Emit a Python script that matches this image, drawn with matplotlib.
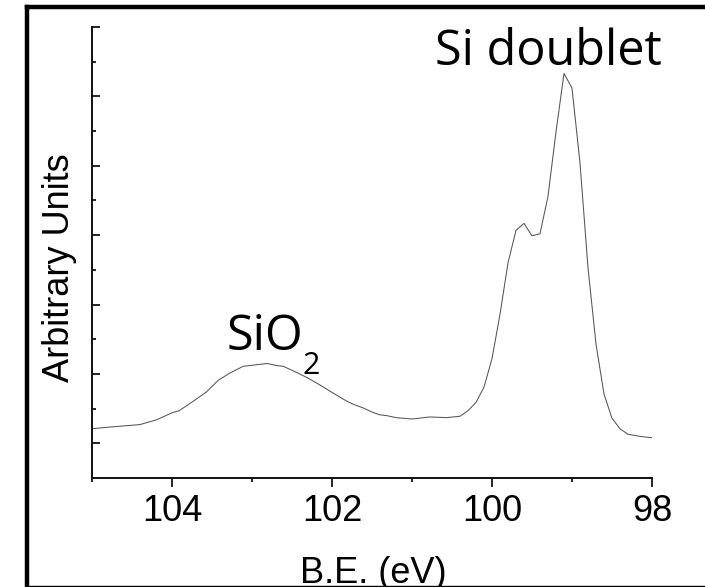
import matplotlib
matplotlib.use('Agg')
import matplotlib.pyplot as plt
from matplotlib.lines import Line2D

# XPS Si 2p spectrum (binding energy in eV, intensity arbitrary)
be = [105.0, 104.82, 104.61, 104.4, 104.19, 104.0, 103.91, 103.73, 103.57, 103.42,
      103.28, 103.11, 102.96, 102.81, 102.69, 102.61, 102.44, 102.3, 102.15, 101.98,
      101.82, 101.73, 101.61, 101.5, 101.4, 101.32, 101.2, 101.0, 100.78, 100.57,
      100.4, 100.3, 100.2, 100.1, 100.0, 99.9, 99.8, 99.7, 99.6, 99.5,
      99.4, 99.3, 99.2, 99.1, 99.0, 98.9, 98.8, 98.7, 98.6, 98.5,
      98.4, 98.3, 98.15, 98.0]
counts = [0.71, 0.73, 0.75, 0.77, 0.84, 0.94, 0.97, 1.11, 1.24, 1.41,
          1.51, 1.61, 1.63, 1.65, 1.62, 1.61, 1.52, 1.44, 1.34, 1.22,
          1.11, 1.06, 1.01, 0.95, 0.91, 0.90, 0.87, 0.85, 0.88, 0.87,
          0.89, 0.97, 1.09, 1.31, 1.72, 2.36, 3.10, 3.57, 3.67, 3.49,
          3.52, 4.06, 4.99, 5.83, 5.62, 4.54, 3.03, 1.93, 1.21, 0.86,
          0.71, 0.63, 0.60, 0.58]

xmajor = [104, 102, 100, 98]
xminor = [105, 103, 101, 99]
ymajor = [0.5, 1.5, 2.5, 3.5, 4.5, 5.5, 6.5]
yminor = [1, 2, 3, 4, 5, 6]

W, H = 705, 587
fig = plt.figure(figsize=(W / 100, H / 100), dpi=100)
ax = fig.add_axes([92 / W, 1 - 478 / H, 560 / W, 451 / H])

ax.plot(be, counts, color='#555555', lw=0.75)
ax.set_xlim(105, 98)
ax.set_ylim(0, 6.5)

ax.spines['top'].set_visible(False)
ax.spines['right'].set_visible(False)
for s in ['left', 'bottom']:
    ax.spines[s].set_linewidth(1.4)
    ax.spines[s].set_color('#111111')

ax.set_xticks(xmajor)
ax.set_xticks(xminor, minor=True)
ax.set_yticks(ymajor)
ax.set_yticks(yminor, minor=True)
ax.tick_params(axis='x', which='major', direction='out', length=6.5, width=1.2,
               pad=5, labelsize=26)
ax.tick_params(axis='x', which='minor', direction='out', length=2.8, width=1.2)
ax.tick_params(axis='y', which='major', direction='in', length=5.8, width=1.2,
               labelleft=False)
ax.tick_params(axis='y', which='minor', direction='in', length=2.9, width=1.2)
for lab in ax.get_xticklabels():
    lab.set_fontfamily('Liberation Sans')

# labels
fig.text(59.5 / W, 1 - 267.5 / H, 'Arbitrary Units', rotation=90, ha='center',
         va='center', fontsize=26, family='Liberation Sans')
fig.text(373 / W, 1 - 583 / H, 'B.E. (eV)', ha='center', va='baseline',
         fontsize=26, family='Liberation Sans')

# peak annotations
fig.text(435 / W, 1 - 65 / H, 'Si doublet', ha='left', va='baseline',
         fontsize=35, family='Open Sans')
fig.text(227 / W, 1 - 350 / H, 'SiO', ha='left', va='baseline',
         fontsize=35, family='Open Sans')
fig.text(303 / W, 1 - 374 / H, '2', ha='left', va='baseline',
         fontsize=22, family='Open Sans')

# outer frame
fig.add_artist(Line2D([26.7 / W, 26.7 / W], [0, 1 - 6.7 / H], color='black',
                      lw=3.2, transform=fig.transFigure, solid_capstyle='projecting'))
fig.add_artist(Line2D([26.7 / W, 1], [1 - 6.7 / H, 1 - 6.7 / H], color='black',
                      lw=3.2, transform=fig.transFigure, solid_capstyle='projecting'))
fig.add_artist(Line2D([26.7 / W, 1], [1 - 586 / H, 1 - 586 / H], color='black',
                      lw=1.0, transform=fig.transFigure))

fig.savefig('out.png', dpi=100)
